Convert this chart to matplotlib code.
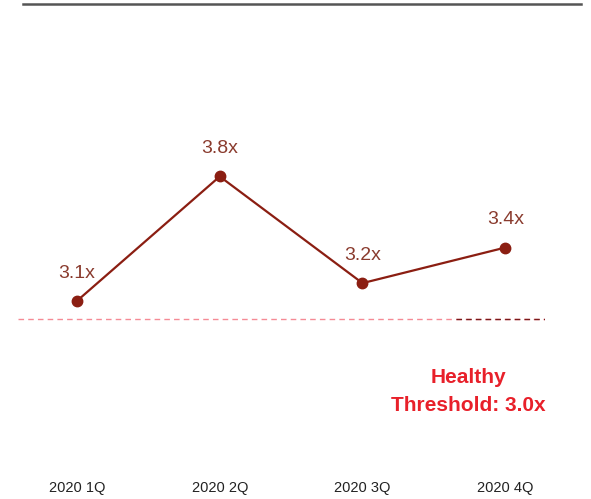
import matplotlib.pyplot as plt
from matplotlib.lines import Line2D

quarters = ["2020 1Q", "2020 2Q", "2020 3Q", "2020 4Q"]
ratios = [3.1, 3.8, 3.2, 3.4]
threshold = 3.0

plt.rcParams['font.family'] = ['Liberation Sans', 'DejaVu Sans']

fig = plt.figure(figsize=(5.91, 4.99), dpi=100)
ax = fig.add_axes([0.0305, 0.0782, 0.892, 0.8417])

x = list(range(len(quarters)))
ax.plot(x, ratios, color='#8b1e12', lw=1.6, marker='o', markersize=7.5, zorder=3)
for xi, v in zip(x, ratios):
    ax.annotate(f"{v:.1f}x", (xi, v), xytext=(0, 20), textcoords='offset points',
                ha='center', va='center', fontsize=14, color='#8a3b2e')

# threshold line
ax.axhline(threshold, color='#f58a95', lw=1, ls=(0, (4, 3)), zorder=1)
ax.axhline(threshold, xmin=0.83, color='#7a1a1a', lw=1, ls=(0, (4, 3)), zorder=2)
ax.text(0.854, 0.162, f"Healthy\nThreshold: {threshold:.1f}x", transform=ax.transAxes,
        ha='center', va='center', fontsize=15, fontweight='bold', color='#e8202a',
        linespacing=1.6)

ax.set_xlim(-0.413, 3.28)
ax.set_ylim(2.205, 4.568)
ax.set_xticks(x)
ax.set_xticklabels(quarters, fontsize=10.5, color='#222222')
ax.set_yticks([])
ax.tick_params(axis='x', length=0, pad=15)
for s in ax.spines.values():
    s.set_visible(False)

# top rule
fig.add_artist(Line2D([23 / 591, 581 / 591], [1 - 3.5 / 499, 1 - 3.5 / 499],
                      color='#555555', lw=1.8))

fig.savefig("out.png", dpi=100)
